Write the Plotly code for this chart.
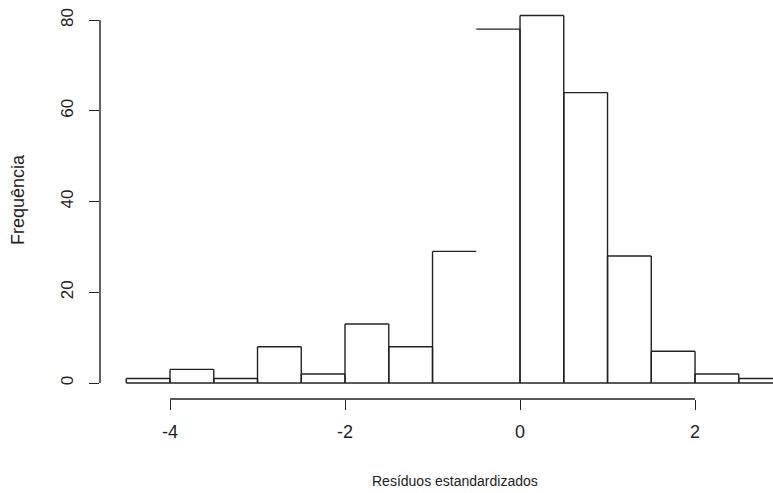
import plotly.graph_objects as go

# Histogram of standardized residuals (bin width 0.5)
bin_edges = [-4.5, -4.0, -3.5, -3.0, -2.5, -2.0, -1.5, -1.0, -0.5,
             0.0, 0.5, 1.0, 1.5, 2.0, 2.5, 3.0]
counts = [1, 3, 1, 8, 2, 13, 8, 29, 78, 81, 64, 28, 7, 2, 1]
x_ticks = [-4, -2, 0, 2]
x_tick_labels = ["-4", "-2", "0", "2"]
y_ticks = [0, 20, 40, 60, 80]
y_tick_labels = ["0", "20", "40", "60", "80"]
hidden_edges = [-0.5]  # edge whose vertical strokes are not drawn

LINE = "#222222"
FONT = "Liberation Sans, Arial, sans-serif"

# Outline of each bin rectangle
xs, ys = [], []
for l, r, c in zip(bin_edges[:-1], bin_edges[1:], counts):
    xs += [l, r, None]
    ys += [c, c, None]
    for e in (l, r):
        if e not in hidden_edges:
            xs += [e, e, None]
            ys += [0, c, None]
xs += [bin_edges[0], bin_edges[-1], None]
ys += [0, 0, None]

fig = go.Figure()
fig.add_trace(go.Scatter(x=xs, y=ys, mode="lines",
                         line=dict(color=LINE, width=1.4),
                         hoverinfo="skip", showlegend=False))

fig.update_layout(
    width=773, height=493,
    margin=dict(l=100, r=0, t=0, b=94),
    paper_bgcolor="white", plot_bgcolor="white",
    font=dict(family=FONT, size=15, color=LINE),
    xaxis=dict(range=[-4.8, 2.891], tickvals=x_ticks, ticktext=x_tick_labels,
               ticks="outside", ticklen=10, tickwidth=1.4, tickcolor=LINE,
               showgrid=False, zeroline=False, showline=False,
               ticklabelstandoff=6, tickfont=dict(size=18)),
    yaxis=dict(range=[-3.526, 84.41], tickvals=y_ticks, ticktext=y_tick_labels,
               ticks="outside", ticklen=10, tickwidth=1.4, tickcolor=LINE,
               showgrid=False, zeroline=False, showline=False, tickangle=-90,
               ticklabelstandoff=9, tickfont=dict(size=17)),
    shapes=[
        dict(type="line", xref="paper", yref="y", x0=0, x1=0,
             y0=y_ticks[0], y1=y_ticks[-1], line=dict(color=LINE, width=1.4)),
        dict(type="line", xref="x", yref="paper", x0=x_ticks[0], x1=x_ticks[-1],
             y0=0, y1=0, line=dict(color=LINE, width=1.4)),
    ],
    annotations=[
        dict(text="Resíduos estandardizados", xref="x", yref="paper",
             x=-0.743, y=0, yshift=-82, showarrow=False,
             xanchor="center", yanchor="middle", font=dict(size=14)),
        dict(text="Frequência", xref="paper", yref="paper",
             x=0, y=1 - 200 / 399, xshift=-82, textangle=-90, showarrow=False,
             xanchor="center", yanchor="middle", font=dict(size=18)),
    ],
)

fig.write_html("out.html")
